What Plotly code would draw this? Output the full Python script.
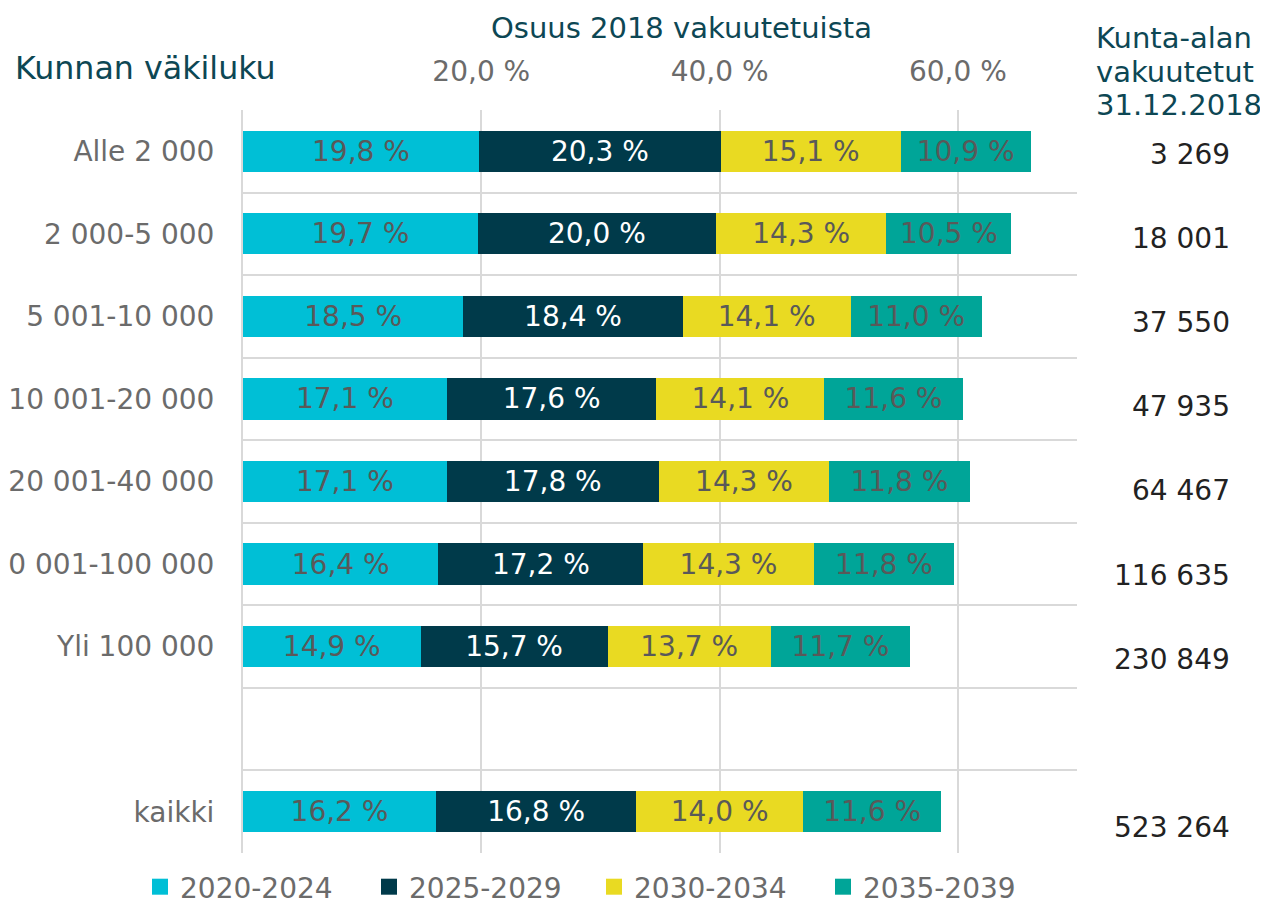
import plotly.graph_objects as go

categories = ["Alle 2 000", "2 000-5 000", "5 001-10 000", "10 001-20 000",
              "20 001-40 000", "40 001-100 000", "Yli 100 000", " ", "kaikki"]
series_names = ["2020-2024", "2025-2029", "2030-2034", "2035-2039"]
s2020 = [19.8, 19.7, 18.5, 17.1, 17.1, 16.4, 14.9, None, 16.2]
s2025 = [20.3, 20.0, 18.4, 17.6, 17.8, 17.2, 15.7, None, 16.8]
s2030 = [15.1, 14.3, 14.1, 14.1, 14.3, 14.3, 13.7, None, 14.0]
s2035 = [10.9, 10.5, 11.0, 11.6, 11.8, 11.8, 11.7, None, 11.6]
insured = ["3 269", "18 001", "37 550", "47 935", "64 467", "116 635", "230 849", "", "523 264"]
x_ticks = [20, 40, 60]
x_tick_labels = ["20,0 %", "40,0 %", "60,0 %"]
right_title = ["Kunta-alan", "vakuutetut", "31.12.2018"]

colors = ["#00bfd6", "#003a4a", "#e9da22", "#00a598"]
text_colors = ["#595959", "#ffffff", "#595959", "#595959"]
FONT = "DejaVu Sans"
TITLE_C = "#0d4754"
GREY = "#6b6b6b"

# page body adds an 8px offset; layout values are in figure pixels
OFF = 8
W, H = 1268, 899
L, T = 243 - OFF, 110 - OFF
R, B = W - (1077 - OFF), H - (853 - OFF)
PW, PH = W - L - R, H - T - B


def fmt(v):
    return "" if v is None else f"{v:.1f} %".replace(".", ",")


def px(x):  # screen x -> paper
    return (x - OFF - L) / PW


def py(y):  # screen y -> paper
    return 1 - (y - OFF - T) / PH


legend_ids = ["legend", "legend", "legend2", "legend2"]

fig = go.Figure()
for name, vals, c, tc, lg in zip(series_names, [s2020, s2025, s2030, s2035],
                                 colors, text_colors, legend_ids):
    fig.add_trace(go.Bar(
        y=categories, x=vals, orientation="h", name=name,
        marker=dict(color=c, line=dict(width=0)), width=0.5,
        text=[fmt(v) for v in vals], textposition="inside",
        insidetextanchor="middle", textangle=0,
        textfont=dict(family=FONT, size=28, color=tc),
        showlegend=False, hoverinfo="skip",
    ))
    # legend proxies with square markers
    fig.add_trace(go.Scatter(
        x=[None], y=[None], mode="markers", name=name, legend=lg,
        marker=dict(symbol="square", size=16, color=c), showlegend=True,
    ))

for i, (cat, n) in enumerate(zip(categories, insured)):
    if n:
        fig.add_annotation(x=px(1232), xref="paper", y=cat, yref="y", text=n,
                           xanchor="right", yanchor="middle", showarrow=False,
                           yshift=-(3 + 1.6 * i),
                           font=dict(family=FONT, size=28, color="#222222"))

legend_common = dict(orientation="h", traceorder="normal",
                     xanchor="left", yanchor="middle",
                     y=py(887),
                     font=dict(family=FONT, size=28, color=GREY),
                     entrywidth=184, entrywidthmode="pixels", itemwidth=30,
                     bgcolor="rgba(0,0,0,0)")

fig.update_layout(
    width=W, height=H,
    margin=dict(l=L, r=R, t=T, b=B, autoexpand=False),
    barmode="stack",
    plot_bgcolor="white", paper_bgcolor="white",
    font=dict(family=FONT, size=28, color=GREY),
    showlegend=True,
    legend=dict(x=px(140), **legend_common),
    legend2=dict(x=px(140 + 2 * 227), **legend_common),
    xaxis=dict(side="top", range=[0, 70], tickvals=x_ticks, ticktext=x_tick_labels,
               showgrid=True, gridcolor="#d9d9d9", gridwidth=2, zeroline=False,
               ticks="", ticklabelstandoff=22, showline=False, fixedrange=True,
               automargin=False,
               tickfont=dict(family=FONT, size=28, color=GREY)),
    yaxis=dict(autorange="reversed", type="category", tickson="boundaries",
               showgrid=True, gridcolor="#d9d9d9", gridwidth=2,
               showline=True, linecolor="#d9d9d9", linewidth=2,
               ticks="", ticklabelstandoff=21, automargin=False,
               tickfont=dict(family=FONT, size=28, color=GREY)),
)

fig.add_annotation(text="Osuus 2018 vakuutetuista", xref="paper", yref="paper",
                   x=px(681), y=py(28), xanchor="center", yanchor="middle",
                   showarrow=False, font=dict(family=FONT, size=29, color=TITLE_C))
fig.add_annotation(text="Kunnan väkiluku", xref="paper", yref="paper",
                   x=px(13), y=py(68), xanchor="left", yanchor="middle",
                   showarrow=False, font=dict(family=FONT, size=31.7, color=TITLE_C))
for line, yy in zip(right_title, [38, 72, 105]):
    fig.add_annotation(text=line, xref="paper", yref="paper",
                       x=px(1094), y=py(yy), xanchor="left", yanchor="middle",
                       align="left", showarrow=False,
                       font=dict(family=FONT, size=29, color=TITLE_C))

fig.write_html("out.html")
